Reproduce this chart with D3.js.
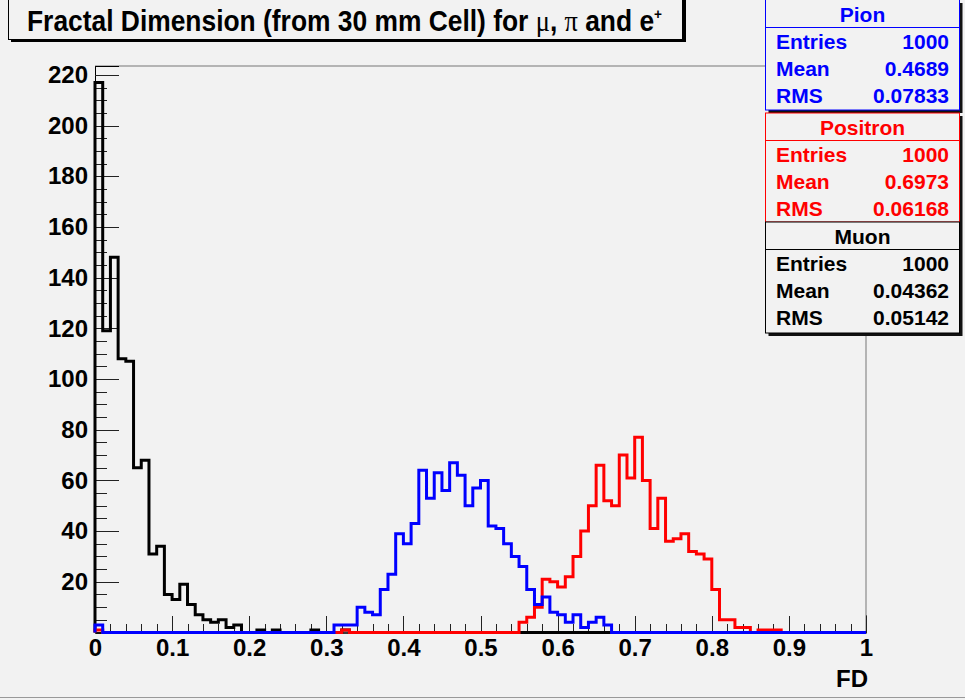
<!DOCTYPE html>
<html>
<head>
<meta charset="utf-8">
<script src="https://cdn.jsdelivr.net/npm/d3@7"></script>
<style>
  body { margin: 0; background: #f2f2f2; }
  svg { display: block; }
  text { font-family: "Liberation Sans", Arial, Helvetica, sans-serif; font-weight: bold; }
</style>
</head>
<body>
<div id="chart"></div>
<script>
// 100 bins of 0.01 between 0 and 1
const xMin = 0, xMax = 1;

const muon = [
  217, 119, 148, 108, 107, 65, 68, 31, 34, 15,
  13, 19, 11, 7, 5, 4, 5, 2, 3, 0,
  0, 1, 0, 1, 0, 0, 0, 0, 1, 0,
  0, 0, 1, 0, 0, 0, 0, 0, 0, 0,
  0, 0, 0, 0, 0, 0, 0, 0, 0, 0,
  0, 0, 0, 0, 0, 0, 0, 0, 0, 0,
  0, 0, 0, 0, 0, 0, 0, 0, 0, 0,
  0, 0, 0, 0, 0, 0, 0, 0, 0, 0,
  0, 0, 0, 0, 0, 0, 0, 0, 0, 0,
  0, 0, 0, 0, 0, 0, 0, 0, 0, 0
];

const pion = [
  3, 0, 0, 0, 0, 0, 0, 0, 0, 0,
  0, 0, 0, 0, 0, 0, 0, 0, 0, 0,
  0, 0, 0, 0, 0, 0, 0, 0, 0, 0,
  0, 3, 3, 3, 10, 8, 7, 17, 23, 39,
  35, 43, 64, 53, 63, 56, 67, 62, 50, 57,
  60, 42, 41, 35, 30, 26, 17, 11, 14, 8,
  7, 4, 7, 2, 4, 6, 3, 0, 0, 0,
  0, 0, 0, 0, 0, 0, 0, 0, 0, 0,
  0, 0, 0, 0, 0, 0, 0, 0, 0, 0,
  0, 0, 0, 0, 0, 0, 0, 0, 0, 0
];

const positron = [
  1, 0, 0, 0, 0, 0, 0, 0, 0, 0,
  0, 0, 0, 0, 0, 0, 0, 0, 0, 0,
  0, 0, 0, 0, 0, 0, 0, 0, 0, 0,
  0, 0, 1, 0, 0, 0, 0, 0, 0, 0,
  0, 0, 0, 0, 0, 0, 0, 0, 0, 0,
  0, 0, 0, 0, 0, 4, 6, 10, 21, 20,
  18, 22, 30, 40, 50, 66, 52, 50, 70, 61,
  77, 60, 41, 53, 36, 37, 39, 32, 31, 29,
  17, 5, 5, 2, 2, 0, 1, 1, 1, 0,
  0, 0, 0, 0, 0, 0, 0, 0, 0, 0
];

const xTicks = [0, 0.1, 0.2, 0.3, 0.4, 0.5, 0.6, 0.7, 0.8, 0.9, 1];
const yTicks = [20, 40, 60, 80, 100, 120, 140, 160, 180, 200, 220];

// stat boxes, top to bottom
const statNames = ["Pion", "Positron", "Muon"];
const statColors = ["#0000ff", "#ff0000", "#000000"];
const statEntries = ["1000", "1000", "1000"];
const statMeans = ["0.4689", "0.6973", "0.04362"];
const statRms = ["0.07833", "0.06168", "0.05142"];

const W = 965, H = 700;
const frame = { left: 95, right: 866, top: 66, bottom: 632.5 };

const svg = d3.select("#chart").append("svg")
  .attr("width", W)
  .attr("height", H);

svg.append("rect").attr("width", W).attr("height", H).attr("fill", "#f2f2f2");

const x = d3.scaleLinear().domain([xMin, xMax]).range([frame.left, frame.right]);
const y = d3.scaleLinear().domain([0, 223.5]).range([frame.bottom, frame.top]);

// frame
svg.append("path")
  .attr("d", `M${frame.left},${frame.top}H${frame.right}V${frame.bottom}`)
  .attr("fill", "none")
  .attr("stroke", "#777")
  .attr("stroke-width", 1);

// y axis: major + minor ticks pointing into the frame
const yMinor = d3.range(0, 224, 5).filter(v => v % 20 !== 0);
const yAxisMinor = svg.append("g")
  .attr("transform", `translate(${frame.left},0)`)
  .call(d3.axisLeft(y).tickValues(yMinor).tickSize(-12).tickFormat(""));
const yAxis = svg.append("g")
  .attr("transform", `translate(${frame.left},0)`)
  .call(d3.axisLeft(y).tickValues(yTicks).tickSize(-24).tickPadding(7));

// x axis
const xMinor = d3.range(0, 101, 2).map(v => v / 100).filter((v, i) => i % 5 !== 0);
const xAxisMinor = svg.append("g")
  .attr("transform", `translate(0,${frame.bottom})`)
  .call(d3.axisBottom(x).tickValues(xMinor).tickSize(-9).tickFormat(""));
const xAxis = svg.append("g")
  .attr("transform", `translate(0,${frame.bottom})`)
  .call(d3.axisBottom(x).tickValues(xTicks).tickSize(-17).tickPadding(6).tickFormat(d => String(d)));

[yAxisMinor, yAxis, xAxisMinor, xAxis].forEach(g => {
  g.select(".domain").attr("stroke", "#000").attr("stroke-width", 1);
  g.selectAll(".tick line").attr("stroke", "#222").attr("shape-rendering", "crispEdges");
  g.selectAll("text")
    .attr("fill", "#000")
    .style("font-size", "24px")
    .style("font-family", "'Liberation Sans', Arial, sans-serif")
    .style("font-weight", "bold");
});

svg.append("text")
  .attr("x", frame.right + 2)
  .attr("y", 687)
  .attr("text-anchor", "end")
  .style("font-size", "24px")
  .text("FD");

// histograms, drawn as step outlines
function histPoints(values) {
  const n = values.length;
  const w = (xMax - xMin) / n;
  const pts = [[xMin, 0]];
  values.forEach((v, i) => pts.push([xMin + i * w, v]));
  pts.push([xMax, values[n - 1]]);
  pts.push([xMax, 0]);
  return pts;
}

const line = d3.line()
  .x(d => x(d[0]))
  .y(d => y(d[1]))
  .curve(d3.curveStepAfter);

const hists = [
  { values: muon, color: "#000000" },
  { values: positron, color: "#ff0000" },
  { values: pion, color: "#0000ff" }
];

svg.append("g").selectAll("path")
  .data(hists)
  .enter().append("path")
  .attr("d", d => line(histPoints(d.values)))
  .attr("fill", "none")
  .attr("stroke", d => d.color)
  .attr("stroke-width", 3)
  .attr("stroke-linejoin", "miter");

// title box with shadow
const title = svg.append("g");
title.append("rect").attr("x", 11).attr("y", -2).attr("width", 675).attr("height", 44).attr("fill", "#000");
title.append("rect").attr("x", 8.5).attr("y", -2).attr("width", 674).attr("height", 41.5)
  .attr("fill", "#f2f2f2").attr("stroke", "#000").attr("stroke-width", 1);
// narrow helvetica look: a taller font squeezed horizontally
const tt = title.append("text")
  .attr("transform", "translate(27,30.5) scale(0.91,1)")
  .style("font-size", "29px")
  .style("white-space", "pre");
tt.append("tspan").text("Fractal Dimension (from 30 mm Cell) for ");
tt.append("tspan").style("font-family", "'Liberation Serif', 'Times New Roman', serif").style("font-weight", "normal").text("\u03bc");
tt.append("tspan").text(", ");
tt.append("tspan").style("font-family", "'Liberation Serif', 'Times New Roman', serif").style("font-weight", "normal").text("\u03c0");
tt.append("tspan").text(" and e");
tt.append("tspan").attr("dy", -12).style("font-size", "15px").text("+");

// stat boxes
const boxTop = [0, 113, 222];
const boxBottom = [110, 222, 333];
const boxL = 765.5, boxR = 959.5;

statNames.forEach((name, i) => {
  const g = svg.append("g");
  const t = boxTop[i], b = boxBottom[i], c = statColors[i];
  g.append("rect").attr("x", boxL + 3).attr("y", t + 3).attr("width", boxR - boxL).attr("height", b - t).attr("fill", "#111");
  g.append("rect").attr("x", boxL).attr("y", t - (i === 0 ? 2 : 0)).attr("width", boxR - boxL).attr("height", b - t + (i === 0 ? 2 : 0))
    .attr("fill", "#f2f2f2").attr("stroke", c).attr("stroke-width", 1);
  g.append("line").attr("x1", boxL).attr("x2", boxR).attr("y1", t + 27.5).attr("y2", t + 27.5)
    .attr("stroke", c).attr("stroke-width", 1);
  g.append("text").attr("x", (boxL + boxR) / 2).attr("y", t + 21.5).attr("text-anchor", "middle")
    .attr("fill", c).style("font-size", "21px").text(name);
  const rows = [["Entries", statEntries[i]], ["Mean", statMeans[i]], ["RMS", statRms[i]]];
  rows.forEach((r, j) => {
    g.append("text").attr("x", 776).attr("y", t + 49 + j * 27).attr("fill", c).style("font-size", "21px").text(r[0]);
    g.append("text").attr("x", 949).attr("y", t + 49 + j * 27).attr("text-anchor", "end").attr("fill", c).style("font-size", "21px").text(r[1]);
  });
});

// canvas edges
svg.append("line").attr("x1", 0).attr("x2", W).attr("y1", 697.5).attr("y2", 697.5).attr("stroke", "#999");
</script>
</body>
</html>
